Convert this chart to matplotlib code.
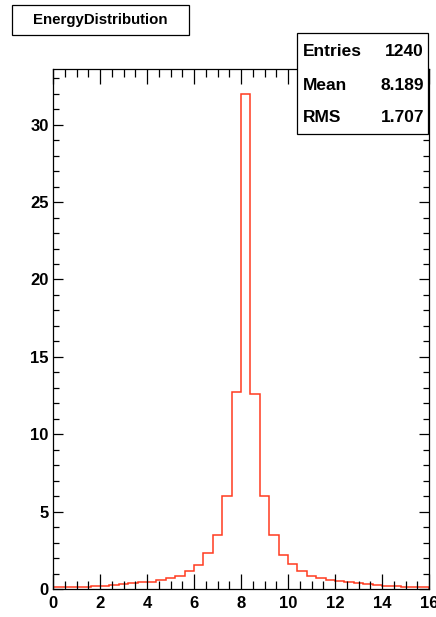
import matplotlib
matplotlib.use('Agg')

import matplotlib.pyplot as plt
from matplotlib.patches import Rectangle
import numpy as np

plt.rcParams['font.family'] = ['Liberation Sans', 'DejaVu Sans']
plt.rcParams['font.weight'] = 'bold'

# histogram: 40 bins of width 0.4 between 0 and 16
edges = np.arange(0, 16.0001, 0.4)
counts = [0.12, 0.12, 0.12, 0.12, 0.2, 0.2, 0.28, 0.3, 0.37, 0.43,
          0.47, 0.58, 0.7, 0.86, 1.18, 1.55, 2.3, 3.48, 6.0, 12.7,
          32.0, 12.6, 6.0, 3.5, 2.2, 1.6, 1.18, 0.86, 0.69, 0.56,
          0.5, 0.43, 0.37, 0.3, 0.26, 0.22, 0.2, 0.13, 0.1, 0.1]

title = 'EnergyDistribution'
stat_names = ['Entries', 'Mean', 'RMS']
stat_values = ['1240', '8.189', '1.707']

W, H = 436, 617
fig = plt.figure(figsize=(W / 100, H / 100), dpi=100)
ax = fig.add_axes([53 / W, 1 - 589 / H, (429 - 53) / W, (589 - 69) / H])

ax.stairs(counts, edges, color='#ff3b1f', linewidth=1.1, baseline=0)

ax.set_xlim(0, 16)
ax.set_ylim(0, 1.05 * max(counts))

ax.set_xticks(np.arange(0, 17, 2))
ax.set_xticks(np.arange(0, 16.01, 0.5), minor=True)
ax.set_yticks(np.arange(0, 31, 5))
ax.set_yticks(np.arange(0, 34, 1), minor=True)

ax.tick_params(which='both', direction='in', top=True, right=True,
               width=0.9, labelsize=12)
ax.tick_params(axis='x', which='major', length=10.5, pad=5)
ax.tick_params(axis='x', which='minor', length=5.5)
ax.tick_params(axis='y', which='major', length=7.5, pad=3)
ax.tick_params(axis='y', which='minor', length=4)
for s in ax.spines.values():
    s.set_linewidth(0.9)

# title box
fig.patches.append(Rectangle((12 / W, 1 - 35 / H), (189 - 12) / W, 30 / H,
                             transform=fig.transFigure, facecolor='white',
                             edgecolor='black', linewidth=0.9, zorder=5))
fig.text(100 / W, 1 - 20 / H, title, ha='center', va='center',
         fontsize=10.8, fontweight='bold', zorder=6)

# stats box
bx0, bx1, by0, by1 = 297, 428, 33, 134
fig.patches.append(Rectangle((bx0 / W, 1 - by1 / H), (bx1 - bx0) / W, (by1 - by0) / H,
                             transform=fig.transFigure, facecolor='white',
                             edgecolor='black', linewidth=0.9, zorder=5))
rows_y = [52, 85, 117]
for name, val, yy in zip(stat_names, stat_values, rows_y):
    fig.text(303 / W, 1 - yy / H, name, ha='left', va='center',
             fontsize=12.5, fontweight='bold', zorder=6)
    fig.text(424 / W, 1 - yy / H, val, ha='right', va='center',
             fontsize=12.5, fontweight='bold', zorder=6)

fig.savefig('out.png', dpi=100)
